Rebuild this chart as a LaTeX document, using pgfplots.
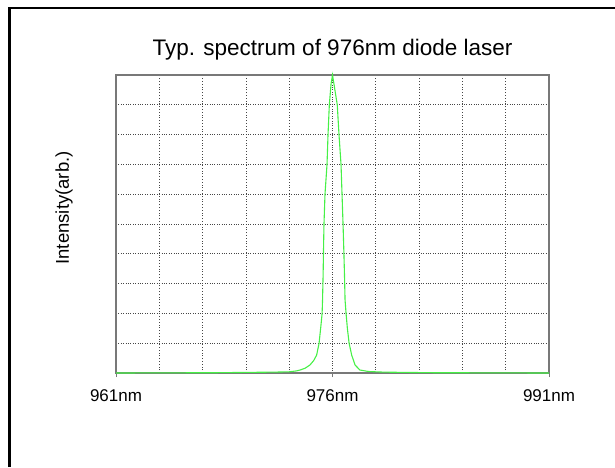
\documentclass[border=0pt]{standalone}
\usepackage{pgfplots}
\pgfplotsset{compat=1.18}
\usepackage{fontspec}
\setmainfont{Liberation Sans}

\definecolor{specgreen}{RGB}{70,240,70}
\definecolor{gridgray}{RGB}{70,70,70}
\definecolor{framegray}{RGB}{120,120,120}

\begin{document}
\begin{tikzpicture}[x=1pt,y=1pt]
\path[use as bounding box] (0,0) rectangle (615,467);
\draw[line width=2.6pt,black] (9.5,0) -- (9.5,459) -- (615,459);
\begin{axis}[
    at={(116pt,94pt)}, anchor=south west,
    scale only axis,
    width=433pt, height=298pt,
    xmin=961, xmax=991, ymin=0, ymax=1,
    xtick={961,976,991},
    xticklabels={961nm,976nm,991nm},
    minor xtick={964,967,970,973,979,982,985,988},
    ytick={0,0.1,...,1},
    yticklabels={},
    xtick pos=bottom, tick align=outside,
    major tick length=4pt, minor tick length=0pt,
    ytick style={draw=none},
    xtick style={framegray, line width=0.8pt},
    xmajorgrids, xminorgrids, ymajorgrids,
    grid style={gridgray, dotted, line width=0.8pt},
    minor grid style={gridgray, dotted, line width=0.8pt},
    axis line style={framegray, line width=1.2pt},
    tick label style={font=\fontsize{17}{19}\selectfont},
    xticklabel style={anchor=base, yshift=-24pt},
    title={Typ. spectrum of 976nm diode laser},
    title style={font=\fontsize{22.5}{24}\selectfont, at={(axis description cs:0.5,1)}, anchor=center, yshift=19pt},
    ylabel={Intensity(arb.)},
    ylabel style={font=\fontsize{18.5}{20}\selectfont, at={(axis description cs:-0.12,0.554)}, anchor=center},
    clip=false,
]
\addplot[specgreen, line width=1.1pt] coordinates {
(961,0) (968,0.001) (970,0.002) (972,0.003) (973,0.004) (973.5,0.007)
(973.75,0.01) (974.1,0.016) (974.44,0.027) (974.7,0.042) (974.9,0.06)
(975.07,0.1) (975.2,0.16) (975.28,0.2) (975.31,0.245) (975.35,0.33)
(975.38,0.42) (975.41,0.5) (975.48,0.6) (975.62,0.7) (975.69,0.8)
(975.78,0.9) (975.9,0.97) (976.0,1.0) (976.1,0.97) (976.33,0.9)
(976.45,0.8) (976.59,0.7) (976.66,0.6) (976.73,0.5) (976.78,0.42)
(976.83,0.33) (976.87,0.245) (976.94,0.2) (977.03,0.15) (977.15,0.1)
(977.33,0.06) (977.56,0.027) (977.9,0.01) (978.5,0.005) (979.5,0.003)
(981,0.002) (983,0.001) (991,0)
};
\end{axis}
\end{tikzpicture}
\end{document}
